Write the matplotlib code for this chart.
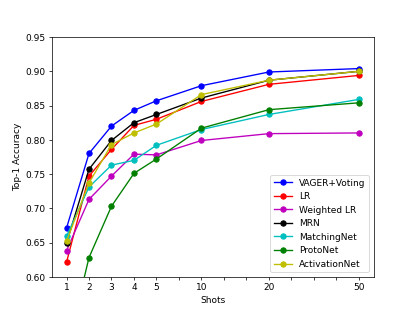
import matplotlib
matplotlib.use("Agg")
import matplotlib.pyplot as plt

shots = [1, 2, 3, 4, 5, 10, 20, 50]
x_pos = [1, 2, 3, 4, 5, 7, 10, 14]

vager = [0.671, 0.780, 0.820, 0.843, 0.857, 0.879, 0.899, 0.904]
lr = [0.621, 0.747, 0.786, 0.821, 0.830, 0.856, 0.881, 0.894]
weighted_lr = [0.638, 0.713, 0.747, 0.779, 0.778, 0.799, 0.809, 0.810]
mrn = [0.649, 0.757, 0.799, 0.825, 0.837, 0.861, 0.887, 0.900]
matchingnet = [0.659, 0.731, 0.763, 0.770, 0.792, 0.815, 0.837, 0.859]
protonet = [0.49, 0.628, 0.703, 0.751, 0.772, 0.817, 0.844, 0.854]
activationnet = [0.652, 0.737, 0.793, 0.810, 0.823, 0.866, 0.887, 0.900]

series = [
    ("VAGER+Voting", vager, "b"),
    ("LR", lr, "r"),
    ("Weighted LR", weighted_lr, "m"),
    ("MRN", mrn, "k"),
    ("MatchingNet", matchingnet, "c"),
    ("ProtoNet", protonet, "g"),
    ("ActivationNet", activationnet, "y"),
]

fig = plt.figure(figsize=(6.4, 4.8), dpi=64.85)
ax = fig.add_subplot(111)
for name, vals, col in series:
    ax.plot(x_pos, vals, marker="o", color=col, label=name, linewidth=1.5, markersize=6)

ticks = list(range(1, 15))
labels = []
for t in ticks:
    labels.append(str(shots[x_pos.index(t)]) if t in x_pos else "")
ax.set_xticks(ticks)
ax.set_xticklabels(labels)
ax.set_ylim(0.60, 0.95)
ax.set_xlim(0.35, 14.65)
ax.set_xlabel("Shots")
ax.set_ylabel("Top-1 Accuracy")
ax.legend(loc="lower right")
fig.savefig("out.png", dpi=64.85)
